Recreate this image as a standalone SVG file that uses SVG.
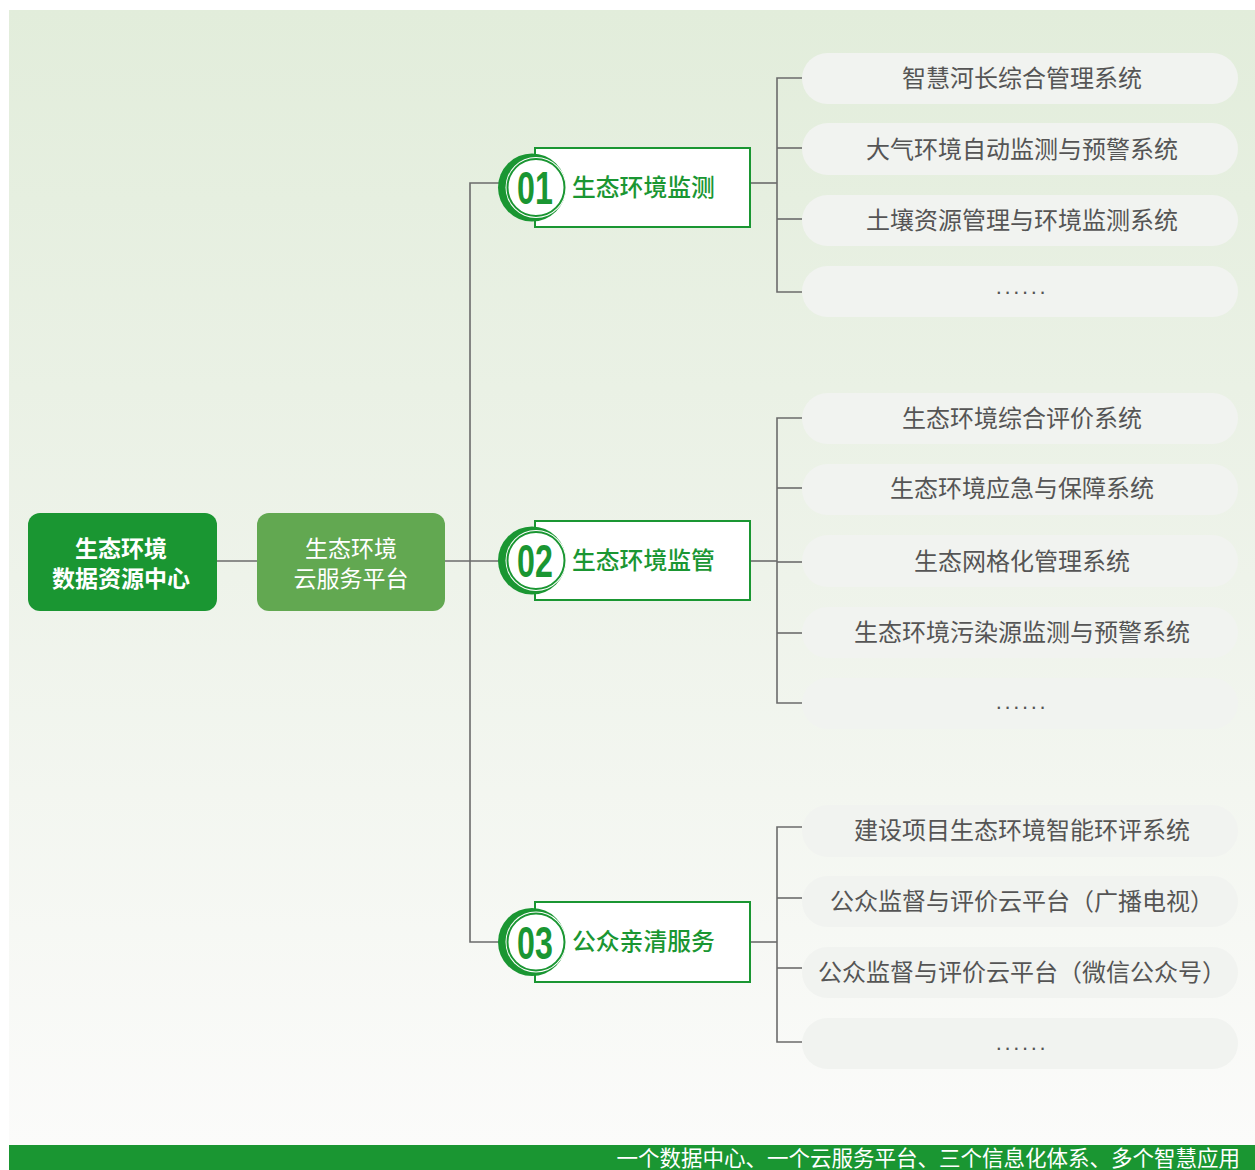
<svg xmlns="http://www.w3.org/2000/svg" width="1255" height="1170" viewBox="0 0 1255 1170">
<defs>
<linearGradient id="bg" x1="0" y1="0" x2="0" y2="1">
<stop offset="0" stop-color="#e2eddb"/>
<stop offset="0.5" stop-color="#eef3ea"/>
<stop offset="1" stop-color="#fbfbfa"/>
</linearGradient>
</defs>
<style>
.ln{stroke:#6b6b6b;stroke-width:1.6;fill:none}
.pill{fill:#f1f3f0}
.pt{font-family:"Noto Sans CJK SC","Noto Sans",sans-serif;font-size:24px;fill:#555;text-anchor:middle}
.dots{font-family:"Liberation Sans",sans-serif;font-size:22px;fill:#555;text-anchor:middle;letter-spacing:2.6px}
.cat{fill:#fff;stroke:#1a9632;stroke-width:2}
.ct{font-family:"Noto Sans CJK SC","Noto Sans",sans-serif;font-size:23.8px;fill:#1a9632;font-weight:500}
.num{font-family:"Liberation Sans",sans-serif;font-weight:bold;font-size:46px;fill:#1a9632;text-anchor:middle}
.wt{font-family:"Noto Sans CJK SC","Noto Sans",sans-serif;fill:#fff;text-anchor:middle}
</style>
<rect x="0" y="0" width="1255" height="1170" fill="#fff"/>
<rect x="9" y="10" width="1246" height="1135" fill="url(#bg)"/>
<rect x="9" y="1145" width="1246" height="25" fill="#1a9632"/>
<text x="1240" y="1166" text-anchor="end" style="font-family:'Noto Sans CJK SC','Noto Sans',sans-serif;font-size:21.5px;fill:#fff">一个数据中心、一个云服务平台、三个信息化体系、多个智慧应用</text>

<g id="connectors">
<line class="ln" x1="216" y1="561" x2="257" y2="561"/>
<line class="ln" x1="444" y1="561" x2="500" y2="561"/>
<polyline class="ln" points="500,183 470,183 470,942 500,942"/>
<line class="ln" x1="750" y1="183" x2="777" y2="183"/>
<polyline class="ln" points="802,78 777,78 777,292 802,292"/>
<line class="ln" x1="777" y1="148" x2="802" y2="148"/>
<line class="ln" x1="777" y1="219" x2="802" y2="219"/>
<line class="ln" x1="750" y1="561" x2="777" y2="561"/>
<polyline class="ln" points="802,418 777,418 777,703 802,703"/>
<line class="ln" x1="777" y1="488" x2="802" y2="488"/>
<line class="ln" x1="777" y1="562" x2="802" y2="562"/>
<line class="ln" x1="777" y1="633" x2="802" y2="633"/>
<line class="ln" x1="750" y1="942" x2="777" y2="942"/>
<polyline class="ln" points="802,827 777,827 777,1042 802,1042"/>
<line class="ln" x1="777" y1="898" x2="802" y2="898"/>
<line class="ln" x1="777" y1="968" x2="802" y2="968"/>
</g>

<g id="root">
<rect x="28" y="513" width="189" height="98" rx="12" fill="#1a9632"/>
<text class="wt" x="121" y="557" font-size="23" font-weight="bold">生态环境</text>
<text class="wt" x="121" y="587" font-size="23" font-weight="bold">数据资源中心</text>
</g>
<g id="cloud">
<rect x="257" y="513" width="188" height="98" rx="12" fill="#62a851"/>
<text class="wt" x="351" y="557" font-size="23">生态环境</text>
<text class="wt" x="351" y="587" font-size="23">云服务平台</text>
</g>

<g id="cat1">
<rect class="cat" x="535" y="148" width="215" height="79"/>
<circle cx="532" cy="187.5" r="34" fill="#1a9632"/>
<circle cx="536" cy="187.5" r="30.5" fill="#fff"/>
<circle cx="536" cy="187.5" r="28.5" fill="none" stroke="#1a9632" stroke-width="2"/>
<text class="num" transform="translate(535,204) scale(0.7,1)">01</text>
<text class="ct" x="572" y="196">生态环境监测</text>
</g>
<g id="cat2">
<rect class="cat" x="535" y="521" width="215" height="79"/>
<circle cx="532" cy="560.5" r="34" fill="#1a9632"/>
<circle cx="536" cy="560.5" r="30.5" fill="#fff"/>
<circle cx="536" cy="560.5" r="28.5" fill="none" stroke="#1a9632" stroke-width="2"/>
<text class="num" transform="translate(535,577) scale(0.7,1)">02</text>
<text class="ct" x="572" y="569">生态环境监管</text>
</g>
<g id="cat3">
<rect class="cat" x="535" y="902" width="215" height="80"/>
<circle cx="532" cy="942" r="34" fill="#1a9632"/>
<circle cx="536" cy="942" r="30.5" fill="#fff"/>
<circle cx="536" cy="942" r="28.5" fill="none" stroke="#1a9632" stroke-width="2"/>
<text class="num" transform="translate(535,958.5) scale(0.7,1)">03</text>
<text class="ct" x="572" y="950">公众亲清服务</text>
</g>

<g id="g1-1"><rect class="pill" x="802" y="53" width="436" height="51" rx="25.5"/><text class="pt" x="1022" y="87">智慧河长综合管理系统</text></g>
<g id="g1-2"><rect class="pill" x="802" y="123" width="436" height="52" rx="26"/><text class="pt" x="1022" y="158">大气环境自动监测与预警系统</text></g>
<g id="g1-3"><rect class="pill" x="802" y="195" width="436" height="51" rx="25.5"/><text class="pt" x="1022" y="229">土壤资源管理与环境监测系统</text></g>
<g id="g1-4"><rect class="pill" x="802" y="266" width="436" height="51" rx="25.5"/><text class="dots" x="1022" y="294">......</text></g>

<g id="g2-1"><rect class="pill" x="802" y="393" width="436" height="51" rx="25.5"/><text class="pt" x="1022" y="427">生态环境综合评价系统</text></g>
<g id="g2-2"><rect class="pill" x="802" y="464" width="436" height="51" rx="25.5"/><text class="pt" x="1022" y="497">生态环境应急与保障系统</text></g>
<g id="g2-3"><rect class="pill" x="802" y="535" width="436" height="52" rx="26"/><text class="pt" x="1022" y="570">生态网格化管理系统</text></g>
<g id="g2-4"><rect class="pill" x="802" y="607" width="436" height="51" rx="25.5"/><text class="pt" x="1022" y="641">生态环境污染源监测与预警系统</text></g>
<g id="g2-5"><rect class="pill" x="802" y="678" width="436" height="51" rx="25.5"/><text class="dots" x="1022" y="709">......</text></g>

<g id="g3-1"><rect class="pill" x="802" y="805" width="436" height="52" rx="26"/><text class="pt" x="1022" y="839">建设项目生态环境智能环评系统</text></g>
<g id="g3-2"><rect class="pill" x="802" y="876" width="436" height="51" rx="25.5"/><text class="pt" x="1022" y="910">公众监督与评价云平台（广播电视）</text></g>
<g id="g3-3"><rect class="pill" x="802" y="947" width="436" height="51" rx="25.5"/><text class="pt" x="1022" y="981">公众监督与评价云平台（微信公众号）</text></g>
<g id="g3-4"><rect class="pill" x="802" y="1018" width="436" height="51" rx="25.5"/><text class="dots" x="1022" y="1050">......</text></g>
</svg>
